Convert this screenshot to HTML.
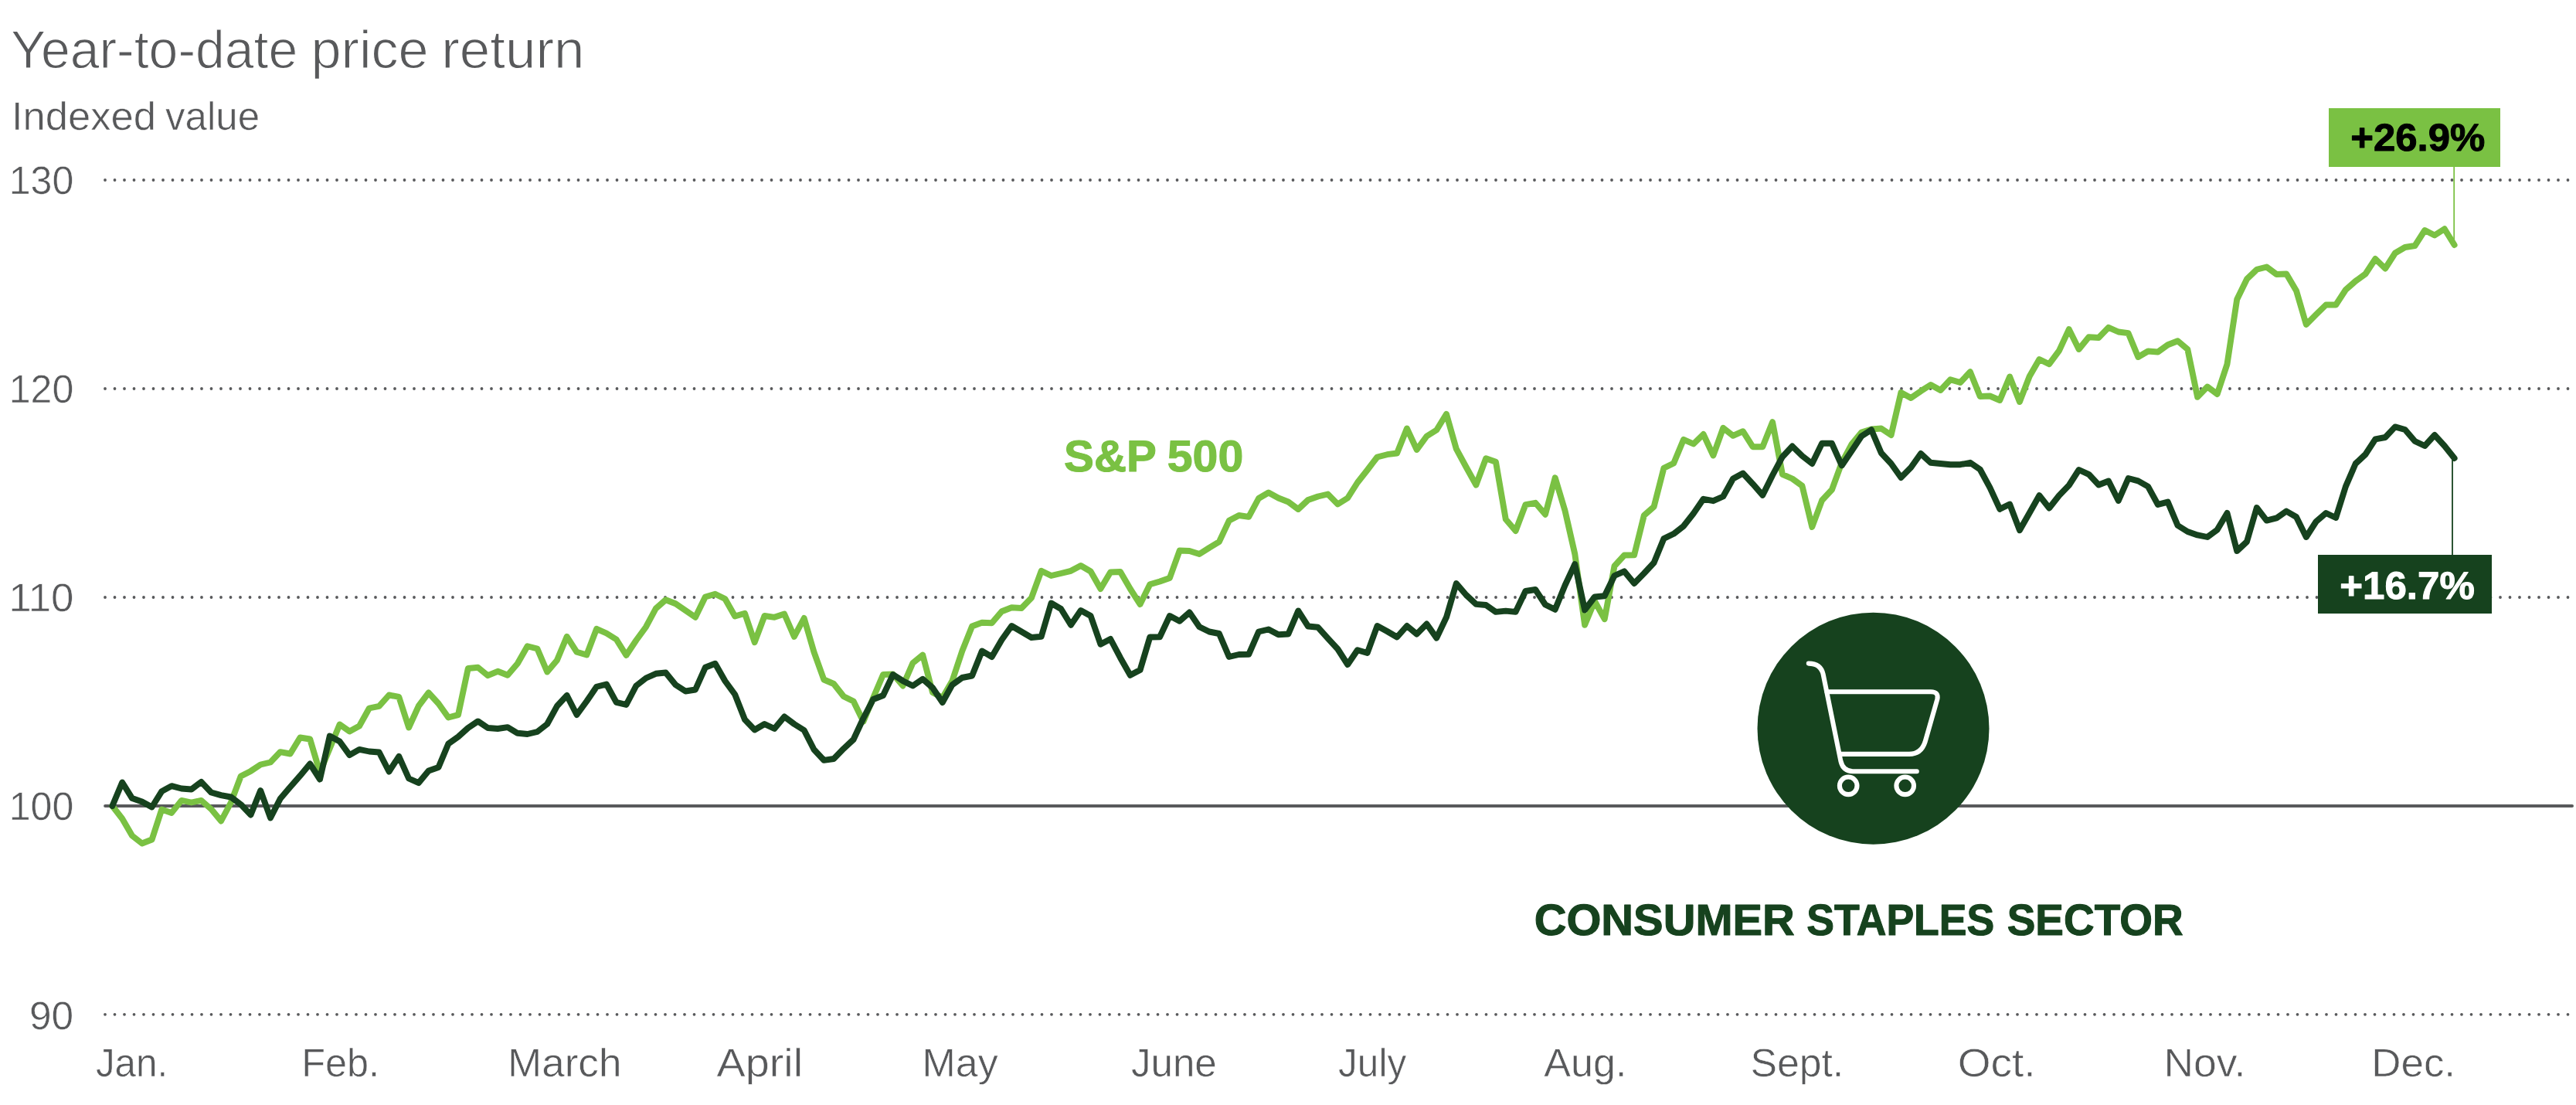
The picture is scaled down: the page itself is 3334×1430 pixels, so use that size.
<!DOCTYPE html>
<html lang="en"><head><meta charset="utf-8"><title>Year-to-date price return</title>
<style>
html,body{margin:0;padding:0;background:#fff;}
body{width:3334px;height:1430px;overflow:hidden;}
svg{display:block;font-family:"Liberation Sans", Arial, sans-serif;}
</style></head><body>
<svg width="3334" height="1430" viewBox="0 0 3334 1430" text-rendering="geometricPrecision">
<rect width="3334" height="1430" fill="#fff"/>
<line x1="136" y1="233" x2="3325" y2="233" stroke="#58595b" stroke-width="3.8" stroke-linecap="round" stroke-dasharray="0 12.5"/>
<line x1="136" y1="503" x2="3325" y2="503" stroke="#58595b" stroke-width="3.8" stroke-linecap="round" stroke-dasharray="0 12.5"/>
<line x1="136" y1="773" x2="3325" y2="773" stroke="#58595b" stroke-width="3.8" stroke-linecap="round" stroke-dasharray="0 12.5"/>
<line x1="136" y1="1312.8" x2="3325" y2="1312.8" stroke="#58595b" stroke-width="3.8" stroke-linecap="round" stroke-dasharray="0 12.5"/>
<line x1="136.1" y1="1043" x2="3329" y2="1043" stroke="#58595b" stroke-width="4" stroke-linecap="round"/>
<line x1="3176.2" y1="214" x2="3176.2" y2="316" stroke="#7ac143" stroke-width="1.8"/>
<line x1="3174" y1="594" x2="3174" y2="720" stroke="#16421e" stroke-width="1.8"/>
<polyline points="145.4,1043.0 158.2,1059.5 171.0,1081.5 183.8,1091.5 196.6,1086.5 209.3,1047.5 222.1,1051.9 234.9,1035.9 247.7,1038.5 260.5,1035.9 273.3,1047.1 286.1,1062.5 298.9,1038.5 311.7,1004.5 324.5,997.9 337.2,989.5 350.0,986.5 362.8,973.1 375.6,975.5 388.4,954.5 401.2,956.5 414.0,999.5 426.8,968.5 439.6,937.5 452.4,946.5 465.1,939.5 477.9,916.5 490.7,913.9 503.5,899.5 516.3,901.9 529.1,941.5 541.9,913.5 554.7,896.5 567.5,910.5 580.3,928.5 593.0,925.1 605.8,865.0 618.6,863.8 631.4,874.2 644.2,868.8 657.0,873.8 669.8,858.8 682.6,836.2 695.4,839.5 708.2,869.5 720.9,854.5 733.7,823.8 746.5,843.8 759.3,847.5 772.1,813.8 784.9,819.5 797.7,827.5 810.5,848.0 823.3,828.8 836.1,811.2 848.8,787.5 861.6,776.2 874.4,781.2 887.2,790.0 900.0,798.8 912.8,772.5 925.6,768.8 938.4,775.0 951.2,797.5 964.0,793.8 976.7,831.2 989.5,797.0 1002.3,798.8 1015.1,794.5 1027.9,823.8 1040.7,800.0 1053.5,843.8 1066.3,879.5 1079.1,885.0 1091.9,901.2 1104.6,907.5 1117.4,933.8 1130.2,903.0 1143.0,873.0 1155.8,872.5 1168.6,887.5 1181.4,858.0 1194.2,847.6 1207.0,896.0 1219.8,903.0 1232.5,881.0 1245.3,842.5 1258.1,810.5 1270.9,805.8 1283.7,806.2 1296.5,791.2 1309.3,786.2 1322.1,787.0 1334.9,773.8 1347.7,738.8 1360.5,745.0 1373.2,742.0 1386.0,738.8 1398.8,732.0 1411.6,739.5 1424.4,762.0 1437.2,740.5 1450.0,740.0 1462.8,762.0 1475.6,782.0 1488.3,756.2 1501.1,752.5 1513.9,748.0 1526.7,712.5 1539.5,713.0 1552.3,717.0 1565.1,708.8 1577.9,701.2 1590.7,673.8 1603.5,667.0 1616.2,668.8 1629.0,645.0 1641.8,637.5 1654.6,644.5 1667.4,649.5 1680.2,659.0 1693.0,647.0 1705.8,642.5 1718.6,639.5 1731.4,652.5 1744.2,644.5 1756.9,624.5 1769.7,608.2 1782.5,591.5 1795.3,588.2 1808.1,586.5 1820.9,554.5 1833.7,582.0 1846.5,564.5 1859.3,556.5 1872.0,535.8 1884.8,580.8 1897.6,604.5 1910.4,627.5 1923.2,593.2 1936.0,597.8 1948.8,672.0 1961.6,687.0 1974.4,653.2 1987.2,650.8 2000.0,665.8 2012.7,618.2 2025.5,660.8 2038.3,717.0 2051.1,808.8 2063.9,778.0 2076.7,801.2 2089.5,732.5 2102.3,718.5 2115.1,718.2 2127.8,667.0 2140.6,655.8 2153.4,605.8 2166.2,599.5 2179.0,568.8 2191.8,574.5 2204.6,562.0 2217.4,589.5 2230.2,553.8 2243.0,563.8 2255.8,558.2 2268.5,578.2 2281.3,578.2 2294.1,546.2 2306.9,613.8 2319.7,619.5 2332.5,628.8 2345.3,682.0 2358.1,647.5 2370.9,633.8 2383.7,598.8 2396.4,575.0 2409.2,559.5 2422.0,555.5 2434.8,554.5 2447.6,563.0 2460.4,508.0 2473.2,515.0 2486.0,506.2 2498.8,498.0 2511.5,505.0 2524.3,491.2 2537.1,495.0 2549.9,481.2 2562.7,513.0 2575.5,512.5 2588.3,518.0 2601.1,487.5 2613.9,520.0 2626.7,487.0 2639.4,465.0 2652.2,471.2 2665.0,453.8 2677.8,426.2 2690.6,452.0 2703.4,436.2 2716.2,437.0 2729.0,423.8 2741.8,429.5 2754.6,431.2 2767.3,462.0 2780.1,454.5 2792.9,455.5 2805.7,446.2 2818.5,441.2 2831.3,452.0 2844.1,513.8 2856.9,500.5 2869.7,510.0 2882.5,471.2 2895.2,387.5 2908.0,361.2 2920.8,348.8 2933.6,345.5 2946.4,355.0 2959.2,354.5 2972.0,376.2 2984.8,420.0 2997.6,407.0 3010.4,394.5 3023.2,394.5 3035.9,375.0 3048.7,363.8 3061.5,354.5 3074.3,335.0 3087.1,347.5 3099.9,327.5 3112.7,320.0 3125.5,318.0 3138.3,298.0 3151.0,304.5 3163.8,296.2 3176.6,317.0" fill="none" stroke="#7ac143" stroke-width="7.9" stroke-linejoin="round" stroke-linecap="round"/>
<polyline points="145.4,1043.0 158.2,1012.5 171.0,1033.1 183.8,1037.5 196.6,1044.5 209.3,1024.1 222.1,1017.1 234.9,1020.5 247.7,1021.5 260.5,1011.9 273.3,1025.5 286.1,1029.1 298.9,1031.5 311.7,1041.1 324.5,1054.5 337.2,1023.1 350.0,1058.5 362.8,1033.5 375.6,1018.5 388.4,1003.9 401.2,988.5 414.0,1008.5 426.8,952.5 439.6,959.5 452.4,977.1 465.1,969.9 477.9,972.5 490.7,973.5 503.5,998.5 516.3,978.9 529.1,1007.5 541.9,1013.1 554.7,997.5 567.5,993.1 580.3,962.5 593.0,953.5 605.8,942.0 618.6,933.4 631.4,942.0 644.2,943.0 657.0,941.2 669.8,948.8 682.6,950.0 695.4,947.0 708.2,937.0 720.9,913.8 733.7,900.0 746.5,925.0 759.3,907.5 772.1,888.8 784.9,885.5 797.7,908.8 810.5,912.0 823.3,887.5 836.1,877.5 848.8,871.8 861.6,870.5 874.4,886.2 887.2,894.5 900.0,892.5 912.8,863.8 925.6,858.8 938.4,881.2 951.2,898.8 964.0,931.2 976.7,944.5 989.5,937.0 1002.3,943.0 1015.1,927.5 1027.9,937.0 1040.7,945.0 1053.5,970.0 1066.3,983.8 1079.1,982.0 1091.9,968.8 1104.6,957.0 1117.4,929.5 1130.2,905.0 1143.0,900.0 1155.8,873.0 1168.6,881.2 1181.4,887.5 1194.2,878.8 1207.0,890.0 1219.8,909.0 1232.5,886.2 1245.3,877.0 1258.1,874.5 1270.9,842.5 1283.7,850.0 1296.5,828.0 1309.3,810.0 1322.1,817.5 1334.9,825.0 1347.7,823.8 1360.5,780.5 1373.2,788.0 1386.0,808.8 1398.8,790.0 1411.6,797.0 1424.4,833.8 1437.2,827.0 1450.0,851.2 1462.8,873.8 1475.6,867.0 1488.3,824.5 1501.1,824.2 1513.9,797.0 1526.7,803.8 1539.5,792.5 1552.3,811.2 1565.1,817.5 1577.9,820.0 1590.7,850.0 1603.5,847.0 1616.2,846.8 1629.0,817.5 1641.8,814.5 1654.6,821.2 1667.4,820.5 1680.2,790.5 1693.0,810.5 1705.8,811.8 1718.6,826.2 1731.4,840.0 1744.2,860.0 1756.9,841.2 1769.7,845.0 1782.5,810.0 1795.3,817.0 1808.1,824.5 1820.9,810.0 1833.7,820.6 1846.5,807.5 1859.3,825.6 1872.0,798.8 1884.8,755.0 1897.6,770.0 1910.4,781.9 1923.2,783.0 1936.0,791.9 1948.8,790.6 1961.6,791.9 1974.4,765.0 1987.2,763.0 2000.0,782.5 2012.7,788.8 2025.5,757.5 2038.3,730.0 2051.1,789.4 2063.9,772.5 2076.7,771.2 2089.5,745.0 2102.3,739.4 2115.1,755.0 2127.8,742.0 2140.6,728.2 2153.4,697.0 2166.2,690.8 2179.0,680.8 2191.8,664.5 2204.6,645.8 2217.4,648.2 2230.2,642.5 2243.0,619.5 2255.8,612.5 2268.5,626.2 2281.3,640.8 2294.1,615.0 2306.9,591.2 2319.7,577.5 2332.5,590.0 2345.3,600.0 2358.1,573.8 2370.9,573.8 2383.7,602.5 2396.4,583.8 2409.2,564.5 2422.0,556.2 2434.8,586.2 2447.6,600.0 2460.4,618.0 2473.2,605.0 2486.0,587.0 2498.8,598.8 2511.5,600.0 2524.3,601.2 2537.1,601.2 2549.9,598.8 2562.7,607.5 2575.5,631.2 2588.3,658.8 2601.1,652.5 2613.9,686.2 2626.7,663.8 2639.4,641.2 2652.2,657.5 2665.0,641.2 2677.8,628.0 2690.6,608.0 2703.4,613.8 2716.2,627.5 2729.0,622.5 2741.8,648.0 2754.6,619.0 2767.3,622.4 2780.1,629.6 2792.9,653.0 2805.7,649.6 2818.5,680.0 2831.3,688.0 2844.1,692.4 2856.9,695.0 2869.7,685.6 2882.5,664.0 2895.2,713.0 2908.0,701.0 2920.8,657.0 2933.6,673.6 2946.4,670.4 2959.2,661.6 2972.0,669.0 2984.8,695.0 2997.6,675.0 3010.4,664.0 3023.2,670.0 3035.9,629.6 3048.7,600.0 3061.5,588.0 3074.3,568.4 3087.1,566.0 3099.9,552.4 3112.7,556.0 3125.5,571.0 3138.3,577.0 3151.0,563.0 3163.8,577.0 3176.6,593.0" fill="none" stroke="#16421e" stroke-width="7.9" stroke-linejoin="round" stroke-linecap="round"/>
<rect x="3014" y="140" width="222" height="76" fill="#7ac143"/>
<rect x="3000" y="718" width="225" height="76" fill="#16421e"/>
<circle cx="2424.5" cy="942.7" r="150" fill="#16421e"/>
<g fill="none" stroke="#fff" stroke-width="6.1" stroke-linecap="round" stroke-linejoin="round"><path d="M2340.8 858.6 Q2356.3 858.6 2359.6 872.4 L2382.4 985 Q2385.5 998.2 2398 998.2 L2480.8 998.2"/><path d="M2364.5 895.2 L2499 895.2 Q2509.5 895.2 2507.3 905 L2491.5 960.3 Q2486.5 975.9 2471 975.9 L2381.8 975.9"/><circle cx="2392.2" cy="1016.8" r="11.3"/><circle cx="2465.7" cy="1016.8" r="11.3"/></g>
<text y="88.35" font-size="69.19" fill="#58595b" font-weight="normal" stroke="#fff" stroke-width="1.1" stroke-linejoin="round"><tspan x="13.9" textLength="371.3" lengthAdjust="spacingAndGlyphs">Year-to-date</tspan> <tspan x="402.55" textLength="152.1" lengthAdjust="spacingAndGlyphs">price</tspan> <tspan x="571.26" textLength="185.22" lengthAdjust="spacingAndGlyphs">return</tspan></text>
<text y="168.18" font-size="51.24" fill="#58595b" font-weight="normal" stroke="#fff" stroke-width="0.55" stroke-linejoin="round"><tspan x="14.99" textLength="186.86" lengthAdjust="spacingAndGlyphs">Indexed</tspan> <tspan x="214.08" textLength="122.06" lengthAdjust="spacingAndGlyphs">value</tspan></text>
<text y="251.08" font-size="51.24" fill="#58595b" font-weight="normal" stroke="#fff" stroke-width="0.55" stroke-linejoin="round"><tspan x="11.7" textLength="83.6" lengthAdjust="spacingAndGlyphs">130</tspan></text>
<text y="521.07" font-size="51.24" fill="#58595b" font-weight="normal" stroke="#fff" stroke-width="0.55" stroke-linejoin="round"><tspan x="11.7" textLength="83.6" lengthAdjust="spacingAndGlyphs">120</tspan></text>
<text y="791.07" font-size="51.24" fill="#58595b" font-weight="normal" stroke="#fff" stroke-width="0.55" stroke-linejoin="round"><tspan x="11.2" textLength="84.33" lengthAdjust="spacingAndGlyphs">110</tspan></text>
<text y="1061.08" font-size="51.24" fill="#58595b" font-weight="normal" stroke="#fff" stroke-width="0.55" stroke-linejoin="round"><tspan x="11.7" textLength="83.6" lengthAdjust="spacingAndGlyphs">100</tspan></text>
<text y="1332.28" font-size="51.24" fill="#58595b" font-weight="normal" stroke="#fff" stroke-width="0.55" stroke-linejoin="round"><tspan x="38.02" textLength="57.21" lengthAdjust="spacingAndGlyphs">90</tspan></text>
<text y="1393.48" font-size="51.24" fill="#58595b" font-weight="normal" stroke="#fff" stroke-width="0.55" stroke-linejoin="round"><tspan x="123.91" textLength="93.39" lengthAdjust="spacingAndGlyphs">Jan.</tspan></text>
<text y="1393.48" font-size="51.24" fill="#58595b" font-weight="normal" stroke="#fff" stroke-width="0.55" stroke-linejoin="round"><tspan x="390.26" textLength="100.79" lengthAdjust="spacingAndGlyphs">Feb.</tspan></text>
<text y="1393.48" font-size="51.24" fill="#58595b" font-weight="normal" stroke="#fff" stroke-width="0.55" stroke-linejoin="round"><tspan x="656.94" textLength="147.47" lengthAdjust="spacingAndGlyphs">March</tspan></text>
<text y="1393.48" font-size="51.24" fill="#58595b" font-weight="normal" stroke="#fff" stroke-width="0.55" stroke-linejoin="round"><tspan x="927.51" textLength="111.54" lengthAdjust="spacingAndGlyphs">April</tspan></text>
<text y="1393.48" font-size="51.24" fill="#58595b" font-weight="normal" stroke="#fff" stroke-width="0.55" stroke-linejoin="round"><tspan x="1193.6" textLength="98.13" lengthAdjust="spacingAndGlyphs">May</tspan></text>
<text y="1393.48" font-size="51.24" fill="#58595b" font-weight="normal" stroke="#fff" stroke-width="0.55" stroke-linejoin="round"><tspan x="1463.89" textLength="110.94" lengthAdjust="spacingAndGlyphs">June</tspan></text>
<text y="1393.48" font-size="51.24" fill="#58595b" font-weight="normal" stroke="#fff" stroke-width="0.55" stroke-linejoin="round"><tspan x="1732.09" textLength="88.08" lengthAdjust="spacingAndGlyphs">July</tspan></text>
<text y="1393.48" font-size="51.24" fill="#58595b" font-weight="normal" stroke="#fff" stroke-width="0.55" stroke-linejoin="round"><tspan x="1998.33" textLength="107.01" lengthAdjust="spacingAndGlyphs">Aug.</tspan></text>
<text y="1393.48" font-size="51.24" fill="#58595b" font-weight="normal" stroke="#fff" stroke-width="0.55" stroke-linejoin="round"><tspan x="2265.42" textLength="120.84" lengthAdjust="spacingAndGlyphs">Sept.</tspan></text>
<text y="1393.48" font-size="51.24" fill="#58595b" font-weight="normal" stroke="#fff" stroke-width="0.55" stroke-linejoin="round"><tspan x="2533.73" textLength="100.93" lengthAdjust="spacingAndGlyphs">Oct.</tspan></text>
<text y="1393.48" font-size="51.24" fill="#58595b" font-weight="normal" stroke="#fff" stroke-width="0.55" stroke-linejoin="round"><tspan x="2800.53" textLength="105.88" lengthAdjust="spacingAndGlyphs">Nov.</tspan></text>
<text y="1393.48" font-size="51.24" fill="#58595b" font-weight="normal" stroke="#fff" stroke-width="0.55" stroke-linejoin="round"><tspan x="3069.24" textLength="108.82" lengthAdjust="spacingAndGlyphs">Dec.</tspan></text>
<text y="194.7" font-size="49.71" fill="#000" font-weight="bold" stroke="#000" stroke-width="1.0" stroke-linejoin="round"><tspan x="3042.19" textLength="174.16" lengthAdjust="spacingAndGlyphs">+26.9%</tspan></text>
<text y="774.7" font-size="50.0" fill="#fff" font-weight="bold" stroke="#fff" stroke-width="1.0" stroke-linejoin="round"><tspan x="3028.18" textLength="174.65" lengthAdjust="spacingAndGlyphs">+16.7%</tspan></text>
<text y="610.25" font-size="57.27" fill="#7ac143" font-weight="bold" stroke="#7ac143" stroke-width="1.1" stroke-linejoin="round"><tspan x="1377.05" textLength="118.67" lengthAdjust="spacingAndGlyphs">S&amp;P</tspan> <tspan x="1510.76" textLength="98.44" lengthAdjust="spacingAndGlyphs">500</tspan></text>
<text y="1209.85" font-size="56.69" fill="#16421e" font-weight="bold" stroke="#16421e" stroke-width="1.1" stroke-linejoin="round"><tspan x="1985.66" textLength="337.19" lengthAdjust="spacingAndGlyphs">CONSUMER</tspan> <tspan x="2338.22" textLength="243.09" lengthAdjust="spacingAndGlyphs">STAPLES</tspan> <tspan x="2597.7" textLength="227.9" lengthAdjust="spacingAndGlyphs">SECTOR</tspan></text>
</svg>
</body></html>
